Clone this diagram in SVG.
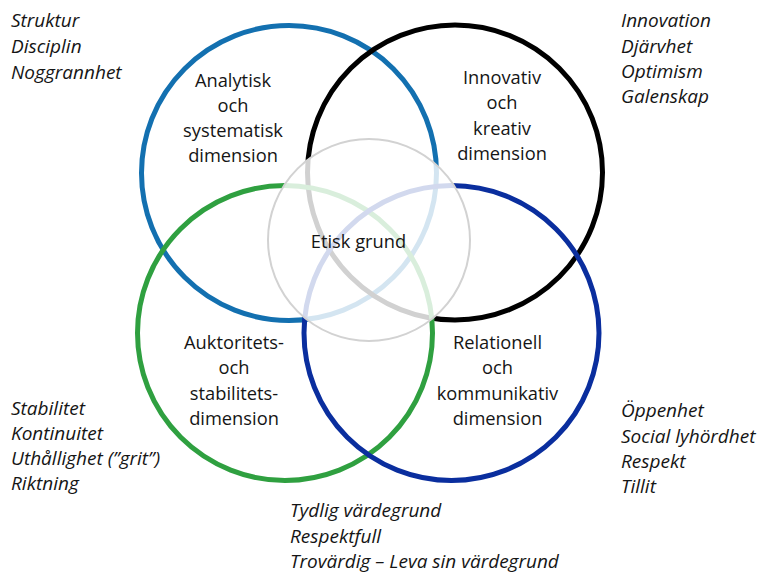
<svg xmlns="http://www.w3.org/2000/svg" width="761" height="574" viewBox="0 0 761 574">
<style>
.ring{fill:none;stroke-width:5}
.lbl{font-family:"Open Sans","Liberation Sans",sans-serif;font-size:18.3px;fill:#151515;text-anchor:middle}
.it{font-family:"Open Sans","Liberation Sans",sans-serif;font-size:19px;font-style:italic;fill:#151515}
</style>
<rect width="761" height="574" fill="#fff"/>
<g id="connectors"></g>
<g id="analytisk">
<circle class="ring" cx="289" cy="173" r="147.5" stroke="#1370B0"/>
<text class="lbl" x="233" y="87">Analytisk</text>
<text class="lbl" x="233" y="112">och</text>
<text class="lbl" x="233" y="137">systematisk</text>
<text class="lbl" x="233" y="162">dimension</text>
</g>
<g id="innovativ">
<circle class="ring" cx="455" cy="172.5" r="147.5" stroke="#000"/>
<text class="lbl" x="502" y="84">Innovativ</text>
<text class="lbl" x="502" y="109">och</text>
<text class="lbl" x="502" y="135">kreativ</text>
<text class="lbl" x="502" y="160">dimension</text>
</g>
<g id="auktoritet">
<circle class="ring" cx="285" cy="333" r="147.5" stroke="#2FA040"/>
<text class="lbl" x="234" y="349">Auktoritets-</text>
<text class="lbl" x="234" y="374">och</text>
<text class="lbl" x="234" y="400">stabilitets-</text>
<text class="lbl" x="234" y="425">dimension</text>
</g>
<g id="relationell">
<circle class="ring" cx="451.5" cy="333" r="147.5" stroke="#0A2E9E"/>
<text class="lbl" x="497.5" y="349">Relationell</text>
<text class="lbl" x="497.5" y="374">och</text>
<text class="lbl" x="497.5" y="400">kommunikativ</text>
<text class="lbl" x="497.5" y="425">dimension</text>
</g>
<g id="etisk">
<circle cx="369" cy="240" r="101" fill="#fff" fill-opacity="0.82" stroke="#d2d2d2" stroke-width="2"/>
<text class="lbl" x="358.5" y="248">Etisk grund</text>
</g>
<g id="notes-tl">
<text class="it" x="11" y="27">Struktur</text>
<text class="it" x="11" y="53">Disciplin</text>
<text class="it" x="11" y="79">Noggrannhet</text>
</g>
<g id="notes-tr">
<text class="it" x="621" y="27">Innovation</text>
<text class="it" x="621" y="53">Djärvhet</text>
<text class="it" x="621" y="78">Optimism</text>
<text class="it" x="621" y="103">Galenskap</text>
</g>
<g id="notes-bl">
<text class="it" x="11" y="415">Stabilitet</text>
<text class="it" x="11" y="440">Kontinuitet</text>
<text class="it" x="11" y="465">Uthållighet (”grit”)</text>
<text class="it" x="11" y="490">Riktning</text>
</g>
<g id="notes-br">
<text class="it" x="621" y="417">Öppenhet</text>
<text class="it" x="621" y="443">Social lyhördhet</text>
<text class="it" x="621" y="468">Respekt</text>
<text class="it" x="621" y="493">Tillit</text>
</g>
<g id="notes-b">
<text class="it" x="290" y="517">Tydlig värdegrund</text>
<text class="it" x="290" y="543">Respektfull</text>
<text class="it" x="290" y="568">Trovärdig – Leva sin värdegrund</text>
</g>
</svg>
